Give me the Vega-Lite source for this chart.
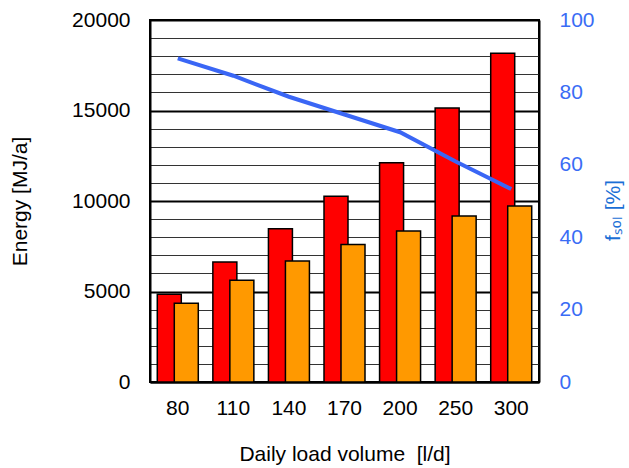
{
  "$schema": "https://vega.github.io/schema/vega-lite/v6.json",
  "autosize": "none",
  "width": 389,
  "height": 362,
  "padding": {"left": 150, "top": 20, "right": 90, "bottom": 86},
  "background": "white",
  "config": {
    "font": "Liberation Sans",
    "view": {"stroke": "black", "strokeWidth": 2},
    "axis": {"labelFont": "Liberation Sans", "titleFont": "Liberation Sans", "labelFontSize": 21, "titleFontSize": 21, "titleFontWeight": "normal", "labelColor": "black", "titleColor": "black", "ticks": false}
  },
  "datasets": {
    "energy": [
      {"volume": 80, "series": "A", "energy": 4850},
      {"volume": 80, "series": "B", "energy": 4350},
      {"volume": 110, "series": "A", "energy": 6630},
      {"volume": 110, "series": "B", "energy": 5620},
      {"volume": 140, "series": "A", "energy": 8470},
      {"volume": 140, "series": "B", "energy": 6690},
      {"volume": 170, "series": "A", "energy": 10260},
      {"volume": 170, "series": "B", "energy": 7590},
      {"volume": 200, "series": "A", "energy": 12120},
      {"volume": 200, "series": "B", "energy": 8340},
      {"volume": 250, "series": "A", "energy": 15140},
      {"volume": 250, "series": "B", "energy": 9170},
      {"volume": 300, "series": "A", "energy": 18160},
      {"volume": 300, "series": "B", "energy": 9720}
    ],
    "fsol": [
      {"volume": 80, "fsol": 89.4},
      {"volume": 110, "fsol": 84.6},
      {"volume": 140, "fsol": 78.8},
      {"volume": 170, "fsol": 73.9},
      {"volume": 200, "fsol": 69.0},
      {"volume": 250, "fsol": 60.9},
      {"volume": 300, "fsol": 53.3}
    ]
  },
  "layer": [
    {
      "data": {"name": "energy"},
      "encoding": {
        "x": {
          "field": "volume", "type": "ordinal", "sort": "ascending",
          "scale": {"paddingInner": 0, "paddingOuter": 0},
          "axis": {"title": "Daily load volume\u00a0 [l/d]", "labelAngle": 0, "labelPadding": 15, "titlePadding": 25, "domainColor": "black", "domainWidth": 2, "grid": false}
        },
        "y": {
          "field": "energy", "type": "quantitative",
          "scale": {"domain": [0, 20000], "nice": false},
          "axis": {
            "title": "Energy [MJ/a]",
            "values": [0,1000,2000,3000,4000,5000,6000,7000,8000,9000,10000,11000,12000,13000,14000,15000,16000,17000,18000,19000,20000],
            "labelExpr": "datum.value % 5000 === 0 ? datum.value : ''",
            "labelPadding": 20,
            "titlePadding": 41,
            "domainColor": "black", "domainWidth": 2,
            "grid": true,
            "gridColor": {"condition": {"test": "datum.value % 5000 === 0", "value": "black"}, "value": "#333333"},
            "gridWidth": {"condition": {"test": "datum.value % 5000 === 0", "value": 2}, "value": 1},
            "gridOpacity": 1
          }
        }
      },
      "layer": [
        {
          "transform": [{"filter": "datum.series === 'A'"}],
          "mark": {"type": "bar", "width": 24, "xOffset": -8.5, "fill": "#ff0000", "stroke": "black", "strokeWidth": 1.5}
        },
        {
          "transform": [{"filter": "datum.series === 'B'"}],
          "mark": {"type": "bar", "width": 24, "xOffset": 8.5, "fill": "#ff9900", "stroke": "black", "strokeWidth": 1.5}
        }
      ]
    },
    {
      "data": {"name": "fsol"},
      "mark": {"type": "line", "color": "#3a66f5", "strokeWidth": 4},
      "encoding": {
        "x": {"field": "volume", "type": "ordinal", "sort": "ascending"},
        "y": {
          "field": "fsol", "type": "quantitative",
          "scale": {"domain": [0, 100], "nice": false},
          "axis": {"orient": "right", "title": "fₛₒₗ [%]", "titleAngle": 270, "titleBaseline": "bottom", "titleY": 190, "values": [0,20,40,60,80,100], "labelColor": "#3a6cf5", "titleColor": "#1a6fd6", "labelPadding": 20, "titlePadding": 29, "domainColor": "black", "domainWidth": 2, "grid": false}
        }
      }
    }
  ],
  "resolve": {"scale": {"y": "independent"}}
}
